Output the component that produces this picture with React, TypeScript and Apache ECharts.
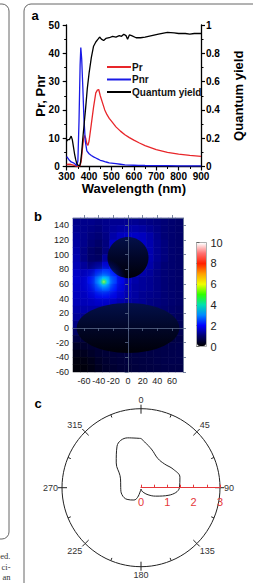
import React, { useEffect, useRef } from "react";
import * as echarts from "echarts";

// ---------- Panel a : spectra ----------
const wlPnr = [300, 310, 320, 330, 340, 345, 350, 355, 360, 363, 367, 372, 377, 383, 390, 400, 410, 420, 430, 440, 450, 460, 470, 480, 490, 500, 520, 540, 560, 580, 600, 620, 650, 700, 750, 800, 850, 900];
const pnr = [3.5, 2.4, 1.6, 1.3, 0.7, 0.2, 2, 16, 36, 42, 38, 28, 17, 9, 5.5, 4.5, 3.9, 3.4, 3.0, 2.6, 2.2, 2.0, 1.7, 1.5, 1.3, 1.2, 1.0, 0.8, 0.6, 0.5, 0.45, 0.4, 0.35, 0.3, 0.3, 0.25, 0.25, 0.2];

const wlPr = [300, 310, 320, 330, 340, 350, 360, 365, 370, 375, 380, 385, 390, 395, 400, 410, 420, 430, 437, 443, 450, 460, 470, 480, 490, 500, 520, 540, 560, 580, 600, 625, 650, 700, 750, 800, 850, 900];
const pr = [0.7, 0.8, 0.7, 0.5, 0.2, 0.05, 0.3, 2, 6, 9.5, 11, 10, 8, 7.5, 9, 15, 21, 26, 27, 27.2, 25, 22.5, 20, 18.3, 17, 16, 14, 12.5, 11.2, 10.2, 9.3, 8.3, 7.4, 6, 5, 4.4, 3.9, 3.6];

const wlQy = [300, 305, 312, 320, 325, 330, 335, 340, 345, 350, 358, 362, 367, 372, 378, 385, 392, 400, 410, 420, 430, 440, 447, 455, 465, 475, 490, 505, 520, 535, 545, 555, 565, 572, 580, 590, 610, 630, 650, 680, 710, 750, 780, 800, 830, 850, 870, 900];
const qy = [0.18, 0.19, 0.19, 0.215, 0.19, 0.14, 0.09, 0.05, 0.02, 0.01, 0.005, 0.03, 0.1, 0.2, 0.3, 0.42, 0.55, 0.66, 0.77, 0.85, 0.88, 0.9, 0.915, 0.9, 0.89, 0.905, 0.91, 0.92, 0.915, 0.925, 0.92, 0.935, 0.925, 0.9, 0.93, 0.925, 0.91, 0.91, 0.915, 0.925, 0.935, 0.948, 0.945, 0.94, 0.94, 0.935, 0.94, 0.94];

// ---------- Panel b : field map ----------
const mapX = [-70, -60, -50, -40, -30, -20, -10, 0, 10, 20, 30, 40, 50, 60, 70];
const mapY = [-55, -45, -35, -25, -15, -5, 5, 15, 25, 35, 45, 55, 65, 75, 85, 95, 105, 115, 125, 135, 145];
// rows listed from top (y = 145) to bottom (y = -55)
const fieldRows = [
  [1.2, 1.2, 1.2, 1.15, 1.2, 1.25, 1.25, 1.25, 1.25, 1.2, 1.15, 1.1, 1.05, 1.0, 0.95],
  [1.25, 1.2, 1.15, 1.1, 1.2, 1.3, 1.35, 1.4, 1.4, 1.35, 1.25, 1.15, 1.05, 1.0, 0.95],
  [1.3, 1.2, 1.1, 1.05, 1.15, 1.4, 1.55, 1.6, 1.6, 1.55, 1.4, 1.2, 1.05, 1.0, 0.95],
  [1.35, 1.2, 1.05, 0.95, 1.1, 1.6, 1.65, 0.3, 1.65, 1.6, 1.45, 1.25, 1.1, 1.0, 0.95],
  [1.4, 1.15, 0.95, 0.85, 1.1, 1.75, 0.3, 0.3, 0.3, 1.6, 1.45, 1.25, 1.1, 1.0, 0.95],
  [1.45, 1.15, 0.95, 0.9, 1.3, 0.3, 0.3, 0.3, 0.3, 0.3, 1.45, 1.25, 1.1, 1.0, 0.95],
  [1.5, 1.3, 1.1, 1.15, 1.6, 1.95, 0.3, 0.3, 0.3, 1.55, 1.4, 1.2, 1.05, 1.0, 0.95],
  [1.6, 1.5, 1.5, 1.8, 2.2, 2.05, 1.75, 0.3, 1.45, 1.4, 1.3, 1.15, 1.05, 1.0, 0.95],
  [1.65, 1.6, 1.85, 2.4, 3.0, 2.3, 1.8, 1.55, 1.4, 1.3, 1.25, 1.15, 1.05, 1.0, 0.95],
  [1.6, 1.6, 1.7, 2.05, 2.25, 1.95, 1.7, 1.5, 1.35, 1.3, 1.25, 1.15, 1.05, 1.0, 0.95],
  [1.55, 1.55, 1.65, 1.8, 1.85, 1.75, 1.6, 1.45, 1.35, 1.25, 1.2, 1.15, 1.05, 1.0, 0.95],
  [1.5, 1.5, 1.55, 1.6, 1.6, 1.55, 1.45, 1.35, 1.3, 1.25, 1.15, 1.1, 1.05, 1.0, 0.95],
  [1.4, 1.4, 1.4, 1.4, 1.4, 0.15, 0.15, 0.15, 0.15, 0.15, 1.1, 1.05, 1.0, 0.95, 0.9],
  [1.3, 1.25, 0.15, 0.15, 0.15, 0.15, 0.15, 0.15, 0.15, 0.15, 0.15, 0.15, 0.15, 0.9, 0.85],
  [1.15, 0.15, 0.15, 0.15, 0.15, 0.15, 0.15, 0.15, 0.15, 0.15, 0.15, 0.15, 0.15, 0.15, 0.8],
  [0.9, 0.15, 0.15, 0.15, 0.15, 0.15, 0.15, 0.15, 0.15, 0.15, 0.15, 0.15, 0.15, 0.15, 0.75],
  [0.6, 0.55, 0.15, 0.15, 0.15, 0.15, 0.15, 0.15, 0.15, 0.15, 0.15, 0.15, 0.15, 0.6, 0.65],
  [0.35, 0.4, 0.45, 0.5, 0.55, 0.15, 0.15, 0.15, 0.15, 0.15, 0.6, 0.62, 0.65, 0.68, 0.7],
  [0.22, 0.28, 0.36, 0.45, 0.5, 0.52, 0.55, 0.58, 0.6, 0.62, 0.64, 0.66, 0.68, 0.7, 0.72],
  [0.12, 0.16, 0.24, 0.36, 0.45, 0.5, 0.53, 0.55, 0.58, 0.6, 0.62, 0.65, 0.68, 0.7, 0.7],
  [0.08, 0.11, 0.18, 0.3, 0.4, 0.45, 0.5, 0.52, 0.55, 0.58, 0.6, 0.62, 0.65, 0.66, 0.66],
];
// particles: [centre x, centre y, semi-axis x, semi-axis y]
const particles = [
  [0, 96, 28, 28],
  [0, 0, 70, 34],
];
const emitter = [[-33, 63]];
const mapXTicks = [-60, -40, -20, 0, 20, 40, 60];
const mapYTicks = [-60, -40, -20, 0, 20, 40, 60, 80, 100, 120, 140];
const colorStops = ["#000000", "#00006e", "#0000ff", "#0088ff", "#00e0b0", "#30ff00", "#f0ff00", "#ffa000", "#ff2000", "#ff7070", "#ffffff"];

// ---------- Panel c : radiation pattern ----------
const polarAngles = [0, 15, 30, 45, 60, 75, 90, 105, 120, 135, 150, 165, 180, 190, 200, 210, 230, 250, 270, 285, 300, 315, 330, 345];
const polarR = [1.87, 1.52, 1.28, 1.27, 1.41, 1.53, 1.46, 1.1, 0.64, 0.38, 0.22, 0.13, 0.05, 0.13, 0.4, 0.54, 0.69, 0.77, 0.77, 0.8, 0.92, 1.33, 1.82, 1.96];

const FONT = "Liberation Sans, Arial, sans-serif";
const RED = "#e5383b";

export default function App() {
  const ref = useRef<HTMLDivElement>(null);
  useEffect(() => {
    const chart = echarts.init(ref.current!, null, { renderer: "svg" });
    const zip = (a: number[], b: number[]) => a.map((v, i) => [v, b[i]]);
    const heatData: number[][] = [];
    fieldRows.forEach((row, ri) => row.forEach((v, ci) => heatData.push([ci, mapY.length - 1 - ri, v])));
    const polarData = polarR.map((r, i) => [r, polarAngles[i]]);
    polarData.push([polarR[0], 360]);

    const boldLabel = { fontFamily: FONT, fontWeight: "bold", fontSize: 10, color: "#000" };
    const blackLine = { lineStyle: { color: "#000", width: 1.3 } };
    const mapAxisLine = { lineStyle: { color: "#5a6a8a", width: 0.8 } };
    const mapTick = { lineStyle: { color: "#5a6a8a", width: 0.8 } };
    const serif = "8.5px Liberation Serif";
    const titleStyle = { fontFamily: FONT, fontWeight: "bold", fontSize: 13, color: "#000" };

    const option: any = {
      animation: false,
      textStyle: { fontFamily: FONT },
      graphic: [
        { type: "rect", shape: { x: -20, y: 4, width: 29, height: 535, r: 7 }, style: { fill: "none", stroke: "#666", lineWidth: 1 } },
        { type: "rect", shape: { x: 24, y: 4, width: 260, height: 640, r: 7 }, style: { fill: "none", stroke: "#666", lineWidth: 1 } },
        { type: "text", x: 10.5, y: 556, style: { text: "ed.", fill: "#333", font: serif, align: "right", verticalAlign: "middle" } },
        { type: "text", x: 10.5, y: 567, style: { text: "ci-", fill: "#333", font: serif, align: "right", verticalAlign: "middle" } },
        { type: "text", x: 10.5, y: 577, style: { text: "an", fill: "#333", font: serif, align: "right", verticalAlign: "middle" } },
        { type: "text", x: 35, y: 15, style: { text: "a", fill: "#000", font: "bold 13px Liberation Sans", align: "center", verticalAlign: "middle" } },
        { type: "text", x: 38, y: 216, style: { text: "b", fill: "#000", font: "bold 13px Liberation Sans", align: "center", verticalAlign: "middle" } },
        { type: "text", x: 38, y: 403, style: { text: "c", fill: "#000", font: "bold 13px Liberation Sans", align: "center", verticalAlign: "middle" } },
      ],
      legend: {
        data: ["Pr", "Pnr", "Quantum yield"],
        orient: "vertical",
        left: 101,
        top: 57,
        itemWidth: 24,
        itemHeight: 10,
        itemGap: 2.5,
        itemStyle: { opacity: 0 },
        textStyle: { fontFamily: FONT, fontWeight: "bold", fontSize: 10, color: "#111", padding: [0, 0, 0, -4] },
      },
      grid: [
        { left: 66.7, top: 25, width: 137.3, height: 141.5 },
        { left: 73, top: 218, width: 110, height: 154 },
        { left: 196.5, top: 242.5, width: 10, height: 104, show: true, borderColor: "#999", borderWidth: 0.8, backgroundColor: "transparent" },
      ],
      xAxis: [
        {
          gridIndex: 0, type: "value", min: 300, max: 900, interval: 100,
          axisLine: blackLine, axisTick: { length: 4, lineStyle: { color: "#000", width: 1.2 } },
          minorTick: { show: true, splitNumber: 2, length: 2.5, lineStyle: { color: "#000" } },
          axisLabel: { ...boldLabel, margin: 5 }, splitLine: { show: false },
          name: "Wavelength (nm)", nameLocation: "middle", nameGap: 15, nameMoveOverlap: false,
          nameTextStyle: titleStyle,
        },
        { gridIndex: 1, type: "category", data: mapX, show: false },
        {
          gridIndex: 1, type: "value", min: -75, max: 75, position: "bottom", z: 10,
          axisLine: mapAxisLine, axisTick: { customValues: mapXTicks, length: 3, ...mapTick },
          axisLabel: { customValues: mapXTicks, fontSize: 9, color: "#222", margin: 4 }, splitLine: { show: false },
        },
        {
          gridIndex: 1, type: "value", min: -75, max: 75, position: "top", z: 10,
          axisLine: mapAxisLine, axisTick: { customValues: mapXTicks, length: 3, ...mapTick },
          axisLabel: { show: false }, splitLine: { show: false },
        },
        { gridIndex: 2, type: "value", min: 0, max: 1, show: false },
      ],
      yAxis: [
        {
          gridIndex: 0, type: "value", min: 0, max: 50, interval: 10, position: "left",
          axisLine: { show: true, ...blackLine }, axisTick: { show: true, length: 4, lineStyle: { color: "#000", width: 1.2 } },
          minorTick: { show: true, splitNumber: 2, length: 2.5, lineStyle: { color: "#000" } },
          axisLabel: { ...boldLabel, margin: 7 }, splitLine: { show: false },
          name: "Pr, Pnr", nameLocation: "middle", nameGap: 20, nameMoveOverlap: false,
          nameTextStyle: titleStyle,
        },
        {
          gridIndex: 0, type: "value", min: 0, max: 1, interval: 0.2, position: "right",
          axisLine: { show: true, ...blackLine }, axisTick: { show: true, length: 4, lineStyle: { color: "#000", width: 1.2 } },
          minorTick: { show: true, splitNumber: 2, length: 2.5, lineStyle: { color: "#000" } },
          axisLabel: { ...boldLabel, margin: 5 }, splitLine: { show: false },
          name: "Quantum yield", nameLocation: "middle", nameGap: 31, nameMoveOverlap: false,
          nameTextStyle: titleStyle,
        },
        { gridIndex: 1, type: "category", data: mapY, show: false },
        {
          gridIndex: 1, type: "value", min: -60, max: 150, position: "left", z: 10,
          axisLine: { show: true, ...mapAxisLine }, axisTick: { show: true, customValues: mapYTicks, length: 3, ...mapTick },
          axisLabel: { customValues: mapYTicks, fontSize: 9, color: "#222", margin: 4 }, splitLine: { show: false },
        },
        {
          gridIndex: 1, type: "value", min: -60, max: 150, position: "right", z: 10,
          axisLine: { show: true, ...mapAxisLine }, axisTick: { show: true, customValues: mapYTicks, length: 3, ...mapTick },
          axisLabel: { show: false }, splitLine: { show: false },
        },
        {
          gridIndex: 2, type: "value", min: 0, max: 10, interval: 2, position: "right",
          axisLine: { show: false }, axisTick: { show: true, length: 3, lineStyle: { color: "#666" } },
          axisLabel: { fontSize: 11, color: "#222", margin: 4 }, splitLine: { show: false },
        },
      ],
      visualMap: {
        type: "continuous", min: 0, max: 10, seriesIndex: 3, calculable: false, show: true,
        left: 197, top: 243, itemWidth: 9, itemHeight: 103, padding: 0, text: null,
        inRange: { color: colorStops },
      },
      polar: [
        { center: [141, 487.7], radius: 79 },
        { center: [141, 487.7], radius: 79 },
      ],
      angleAxis: [
        {
          polarIndex: 0, type: "value", min: 0, max: 360, interval: 45, startAngle: 90, clockwise: true,
          axisLine: { lineStyle: { color: "#222", width: 1 } },
          axisTick: { show: true, inside: true, length: 5, lineStyle: { color: "#222" } },
          minorTick: { show: true, splitNumber: 2, length: 3, lineStyle: { color: "#222" } },
          splitLine: { show: false }, minorSplitLine: { show: false },
          axisLabel: { fontSize: 9, color: "#333", margin: 4, formatter: (v: number) => (v === 360 ? "" : String(v)) },
        },
        {
          polarIndex: 1, type: "value", min: 0, max: 360, interval: 45, startAngle: 0, clockwise: true,
          axisLine: { show: false }, axisTick: { show: true, length: 4, lineStyle: { color: "#222" } },
          axisLabel: { show: false }, splitLine: { show: false },
        },
      ],
      radiusAxis: [
        { polarIndex: 0, type: "value", min: 0, max: 3, show: false, splitLine: { show: false } },
        {
          polarIndex: 1, type: "value", min: 0, max: 3, interval: 0.5, z: 5,
          axisLine: { lineStyle: { color: RED, width: 1.2 } },
          axisTick: { show: true, inside: false, length: 3, lineStyle: { color: RED } },
          axisLabel: {
            color: RED, fontSize: 11, margin: -14, verticalAlign: "middle", align: "center",
            formatter: (v: number) => (Number.isInteger(v) ? String(v) : ""),
          },
          splitLine: { show: false },
        },
      ],
      series: [
        { name: "Pr", type: "line", xAxisIndex: 0, yAxisIndex: 0, data: zip(wlPr, pr), symbol: "none", color: "#e8262a", lineStyle: { width: 1.3 } },
        { name: "Pnr", type: "line", xAxisIndex: 0, yAxisIndex: 0, data: zip(wlPnr, pnr), symbol: "none", color: "#1a1ae6", lineStyle: { width: 1.3 } },
        { name: "Quantum yield", type: "line", xAxisIndex: 0, yAxisIndex: 1, data: zip(wlQy, qy), symbol: "none", color: "#000", lineStyle: { width: 1.3 } },
        { type: "heatmap", xAxisIndex: 1, yAxisIndex: 2, data: heatData, emphasis: { disabled: true }, progressive: 0 },
        {
          type: "custom", xAxisIndex: 2, yAxisIndex: 3, data: particles, z: 3,
          renderItem: (params: any, api: any) => {
            const c = api.coord([api.value(0), api.value(1)]);
            const s = api.size([api.value(2), api.value(3)]);
            return {
              type: "ellipse",
              shape: { cx: c[0], cy: c[1], rx: s[0], ry: s[1] },
              style: {
                fill: {
                  type: "linear", x: 0, y: 0, x2: 0, y2: 1,
                  colorStops: [
                    { offset: 0, color: "#03104a" },
                    { offset: 0.5, color: "#010628" },
                    { offset: 1, color: "#000008" },
                  ],
                },
              },
            };
          },
        },
        {
          type: "scatter", xAxisIndex: 2, yAxisIndex: 3, data: emitter, symbolSize: 46, z: 4,
          itemStyle: {
            color: {
              type: "radial", x: 0.5, y: 0.5, r: 0.5,
              colorStops: [
                { offset: 0, color: "#d0ff30" },
                { offset: 0.07, color: "#40ff60" },
                { offset: 0.16, color: "#00d0ff" },
                { offset: 0.38, color: "rgba(0,120,255,0.75)" },
                { offset: 0.7, color: "rgba(0,40,255,0.3)" },
                { offset: 1, color: "rgba(0,0,255,0)" },
              ],
            },
          },
          emphasis: { disabled: true },
        },
        {
          type: "line", coordinateSystem: "polar", polarIndex: 0, data: polarData, smooth: 0.4,
          symbol: "none", lineStyle: { color: "#222", width: 1 },
        },
      ],
    };
    chart.setOption(option);
    return () => chart.dispose();
  }, []);
  return <div ref={ref} style={{ position: "fixed", left: 0, top: 0, width: 253, height: 583, background: "#fff" }} />;
}
